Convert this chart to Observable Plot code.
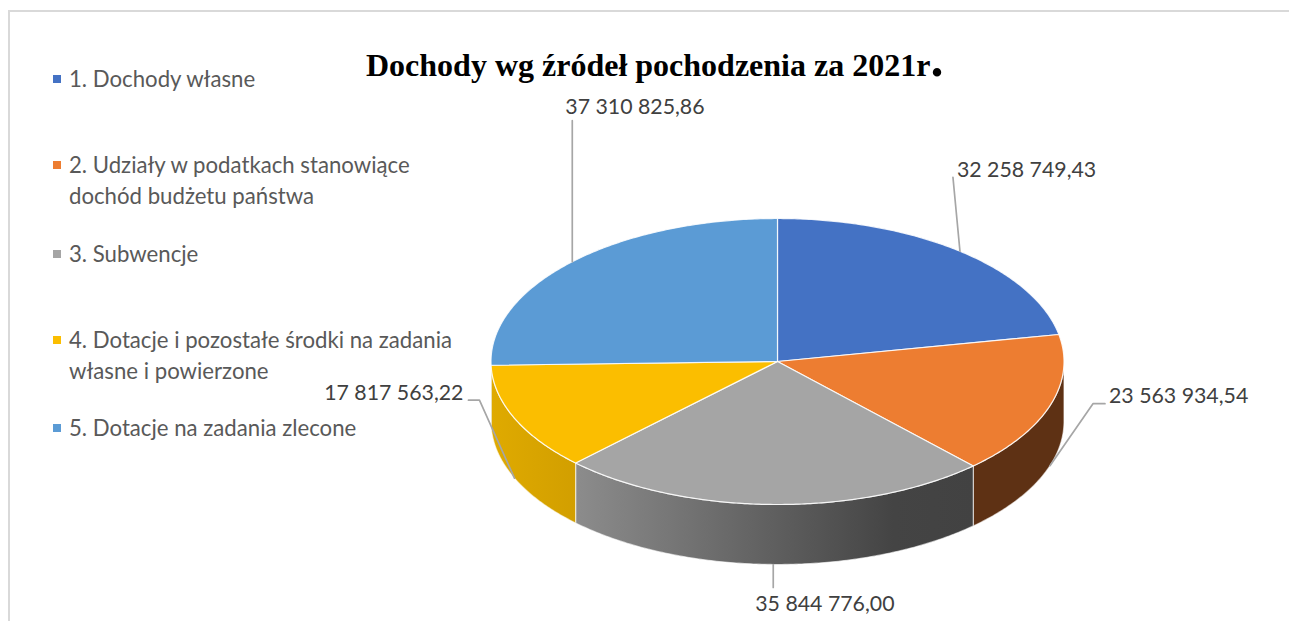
<!DOCTYPE html>
<html lang="pl">
<head>
<meta charset="utf-8">
<script src="https://cdn.jsdelivr.net/npm/d3@7"></script>
<script src="https://cdn.jsdelivr.net/npm/@observablehq/plot@0.6"></script>
<style>
  html, body { margin: 0; padding: 0; background: #fff; overflow: hidden; }
  #chart { position: relative; width: 1289px; height: 621px; }
  #frame { position: absolute; left: 8px; top: 10px; right: 0; bottom: -2px; border: 1px solid #d9d9d9; border-width: 2px 0 0 2px; }
  #title { position: absolute; left: 366px; top: 43px; font: bold 32px "Liberation Serif", serif; color: #000; white-space: nowrap; }
  #title span { font-size: 52px; line-height: 31px; }
  .lg { position: absolute; left: 69px; font: 22.2px/31px Lato, sans-serif; color: #595959; white-space: pre; }
  .sw { position: absolute; left: 53px; width: 8px; height: 8px; }
</style>
</head>
<body>
<div id="chart"><div id="frame"></div></div>
<script>
const categories = [
  "1. Dochody własne",
  "2. Udziały w podatkach stanowiące\ndochód budżetu państwa",
  "3. Subwencje",
  "4. Dotacje i pozostałe środki na zadania\nwłasne i powierzone",
  "5. Dotacje na zadania zlecone"
];
const values = [32258749.43, 23563934.54, 35844776.00, 17817563.22, 37310825.86];
const colors = ["#4472C4", "#ED7D31", "#A5A5A5", "#FBBE00", "#5B9BD5"];
const titleText = "Dochody wg źródeł pochodzenia za 2021r";

// layout (pixels), not data
const W = 1289, H = 621;
const cx = 777, cy = 361, rx = 286.5, ry = 143, depth = 60;
const legendTops = [63, 149, 238, 324, 412];
const leaderOffsets = [
  [[0, 0], [-7, -74]],
  [[0, 0], [43, -62], [55, -62]],
  [[0, 0], [0, 23]],
  [[0, 0], [-35, -78], [-46, -78]],
  [[0, 0], [0, -141]]
];
const labelOffsets = [
  [-3, -81, "start"], [59, -70, "start"], [-18, 40, "start"], [-51, -85, "end"], [-7, -155, "start"]
];
const onFront = [false, true, true, true, false];

const ux = d => d / rx, uy = d => -d / ry;
const dep = depth / ry;
const arcs = d3.pie().sort(null).startAngle(0).endAngle(2 * Math.PI)(values);
const pt = (a, drop = 0) => ({x: Math.sin(a), y: Math.cos(a) - drop});
const arcPts = (a0, a1, drop = 0) => {
  const n = Math.max(2, Math.ceil((a1 - a0) / 0.01));
  return d3.range(n + 1).map(i => pt(a0 + (a1 - a0) * i / n, drop));
};

// top faces
const faces = arcs.flatMap((s, i) => {
  const ring = [{x: 0, y: 0}, ...arcPts(s.startAngle, s.endAngle), {x: 0, y: 0}];
  return ring.map(p => ({...p, name: categories[i]}));
});

// front walls: the part of every slice lying in the front half of the ellipse
const sideFills = ["#4472C4", "#5E3114", "url(#wallGray)", "url(#wallYellow)", "#3D6E9C"];
const walls = arcs.map((s, i) => {
  const a0 = Math.max(s.startAngle, Math.PI / 2), a1 = Math.min(s.endAngle, 3 * Math.PI / 2);
  if (a1 <= a0) return null;
  return {fill: sideFills[i], pts: [...arcPts(a0, a1), ...arcPts(a0, a1, dep).reverse(), pt(a0)]};
}).filter(Boolean);

// leaders and value labels, anchored on the middle of each slice
const fmt = d3.formatLocale({decimal: ",", thousands: " ", grouping: [3], currency: ["", ""]}).format(",.2f");
const anchors = arcs.map((s, i) => pt((s.startAngle + s.endAngle) / 2, onFront[i] ? dep : 0));
const leaders = anchors.flatMap((a, i) => leaderOffsets[i].map(([dx, dy]) => ({x: a.x + ux(dx), y: a.y + uy(dy), i})));
const labels = anchors.map((a, i) => ({
  x: a.x + ux(labelOffsets[i][0]), y: a.y + uy(labelOffsets[i][1]),
  text: fmt(values[i]), anchor: labelOffsets[i][2]
}));

const defs = () => {
  const svgNS = "http://www.w3.org/2000/svg";
  const d = document.createElementNS(svgNS, "defs");
  d.innerHTML = `
    <linearGradient id="wallGray" x1="0" x2="1" y1="0" y2="0">
      <stop offset="0" stop-color="#8C8C8C"/><stop offset="0.8" stop-color="#444"/><stop offset="1" stop-color="#424242"/>
    </linearGradient>
    <linearGradient id="wallYellow" x1="0" x2="1" y1="0" y2="0">
      <stop offset="0" stop-color="#DFAA00"/><stop offset="1" stop-color="#D29F00"/>
    </linearGradient>`;
  return d;
};

const plot = Plot.plot({
  width: W, height: H, margin: 0,
  style: {background: "transparent", position: "absolute", left: 0, top: 0},
  x: {domain: [-cx / rx, (W - cx) / rx], axis: null},
  y: {domain: [(cy - H) / ry, cy / ry], axis: null},
  color: {domain: categories, range: colors},
  marks: [
    defs,
    ...walls.map(w => Plot.line(w.pts, {x: "x", y: "y", fill: w.fill, stroke: "#fff", strokeOpacity: 0.6, strokeWidth: 1.2, curve: "linear"})),
    Plot.line(faces, {x: "x", y: "y", z: "name", fill: "name", stroke: "#fff", strokeOpacity: 0.85, strokeWidth: 1.2, curve: "linear"}),
    Plot.line(leaders, {x: "x", y: "y", z: "i", stroke: "#A6A6A6", strokeWidth: 1.7, curve: "linear"}),
    Plot.text(labels.filter(d => d.anchor === "start"), {x: "x", y: "y", text: "text", textAnchor: "start", fontSize: 21.3, fontFamily: "Lato, sans-serif", fill: "#404040"}),
    Plot.text(labels.filter(d => d.anchor === "end"), {x: "x", y: "y", text: "text", textAnchor: "end", fontSize: 21.3, fontFamily: "Lato, sans-serif", fill: "#404040"})
  ]
});

const host = document.getElementById("chart");
host.appendChild(plot);

const title = document.createElement("div");
title.id = "title";
title.textContent = titleText;
const dot = document.createElement("span");
dot.textContent = ".";
title.appendChild(dot);
host.appendChild(title);

categories.forEach((c, i) => {
  const sw = document.createElement("div");
  sw.className = "sw";
  sw.style.top = (legendTops[i] + 12) + "px";
  sw.style.background = colors[i];
  host.appendChild(sw);
  c.split("\n").forEach((line, k) => {
    const el = document.createElement("div");
    el.className = "lg";
    el.style.top = (legendTops[i] + k * 31) + "px";
    el.textContent = line;
    host.appendChild(el);
  });
});
</script>
</body>
</html>
